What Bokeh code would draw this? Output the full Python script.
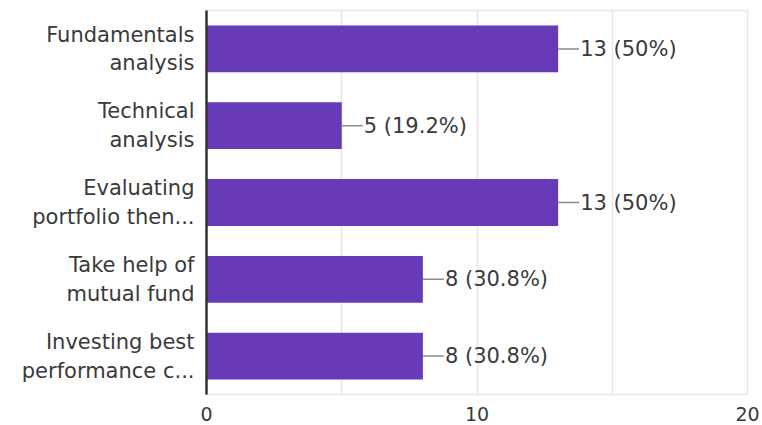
from bokeh.plotting import figure
from bokeh.models import FixedTicker, FactorRange, Range1d
from bokeh.core.properties import value
from bokeh.embed import file_html
from bokeh.resources import INLINE

categories = [
    "Fundamentals\nanalysis",
    "Technical\nanalysis",
    "Evaluating\nportfolio then...",
    "Take help of\nmutual fund",
    "Investing best\nperformance c...",
]
counts = [13, 5, 13, 8, 8]
bar_labels = ["13 (50%)", "5 (19.2%)", "13 (50%)", "8 (30.8%)", "8 (30.8%)"]
axis_ticks = [0, 10, 20]
grid_ticks = [0, 5, 10, 15, 20]

FONT = "DejaVu Sans"
TXT = "#3a3a3a"

p = figure(
    width=762, height=425,
    y_range=FactorRange(factors=list(reversed(categories))),
    x_range=Range1d(0, 20),
    output_backend="svg", toolbar_location=None,
    min_border_left=206, min_border_right=15, min_border_top=10, min_border_bottom=31,
)
p.background_fill_color = "white"
p.border_fill_color = "white"
p.outline_line_color = "#e6e6e6"
p.outline_line_width = 1.5

p.hbar(y=categories, right=counts, left=0, height=0.61, color="#673ab7", line_color=None)

p.ray(x=counts, y=categories, length=21, angle=0, length_units="screen",
      line_color="#8a8a8a", line_width=1.5)
p.text(x=counts, y=categories, text=bar_labels, x_offset=22, text_baseline="middle",
       text_align="left", text_font=value(FONT), text_font_size="21px", text_color=TXT)

p.xaxis.ticker = FixedTicker(ticks=axis_ticks)
p.xgrid.ticker = FixedTicker(ticks=grid_ticks)
p.xgrid.grid_line_color = "#e6e6e6"
p.xgrid.grid_line_width = 1.5
p.ygrid.grid_line_color = None

p.xaxis.axis_line_color = None
p.xaxis.major_tick_line_color = None
p.xaxis.minor_tick_line_color = None
p.xaxis.major_label_text_font = FONT
p.xaxis.major_label_text_font_size = "19px"
p.xaxis.major_label_text_color = TXT
p.xaxis.major_label_standoff = 6

p.yaxis.axis_line_color = "#333333"
p.yaxis.axis_line_width = 2.5
p.yaxis.major_tick_line_color = None
p.yaxis.minor_tick_line_color = None
p.yaxis.major_label_text_font = FONT
p.yaxis.major_label_text_font_size = "21px"
p.yaxis.major_label_text_color = TXT
p.yaxis.major_label_standoff = 6

open("out.html", "w").write(file_html(p, INLINE))
